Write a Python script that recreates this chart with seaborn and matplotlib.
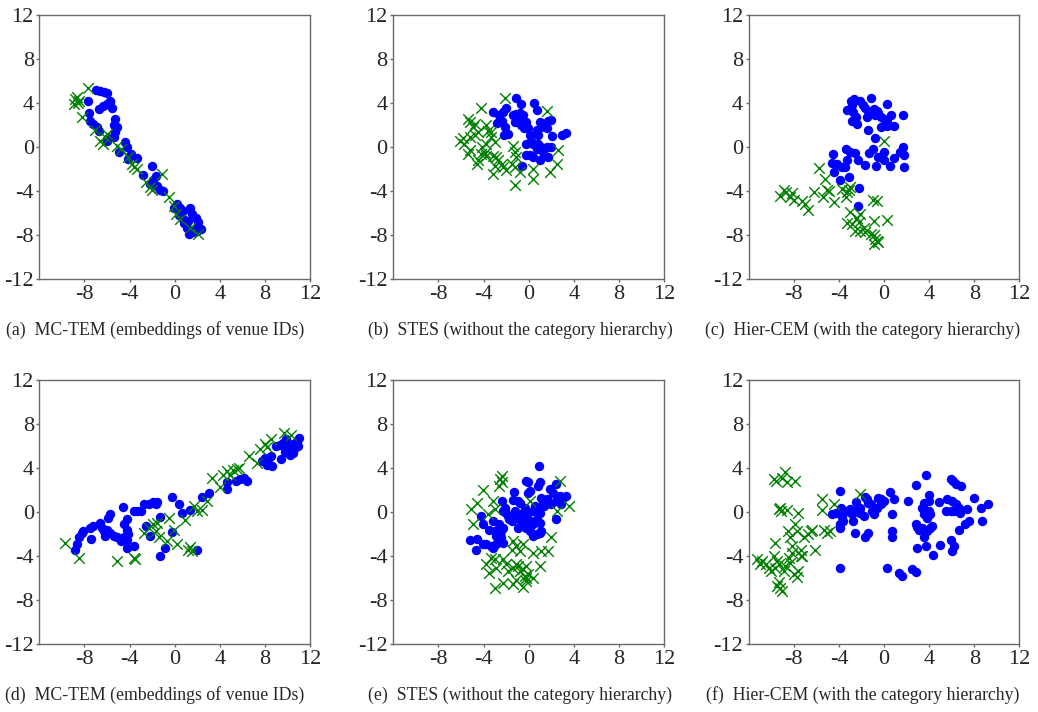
import matplotlib
matplotlib.use("Agg")
import matplotlib.pyplot as plt
import seaborn as sns
import pandas as pd

# ---- panel (a): MC-TEM, venue-ID embeddings ----
a_blue_x = [-7.0, -6.6, -6.3, -6.0, -7.7, -7.6, -6.7, -6.4, -6.0, -5.7, -5.6, -5.7,
            -7.5, -7.2, -6.9, -6.7, -5.3, -5.4, -5.1, -5.3, -5.4, -5.9, -6.0, -4.4,
            -4.2, -3.9, -4.1, -4.9, -3.3, -2.0, -2.8, -1.7, -1.9, -2.2, -1.6, -1.3,
            -1.0, -0.1, 0.2, 0.5, 0.7, 0.4, 0.7, 0.8, 1.1, 1.4, 1.3, 1.7, 2.0, 2.1,
            1.9, 1.4, 1.5, 2.0, 2.3, 0.9, 1.2]
a_blue_y = [5.2, 5.1, 5.0, 4.9, 4.2, 3.1, 3.5, 3.7, 3.9, 4.1, 3.6, 4.2,
            2.4, 2.1, 1.8, 1.5, 2.6, 2.0, 1.8, 1.4, 0.9, 0.8, 0.6, 0.5,
            0.0, -0.6, -1.1, -0.4, -1.0, -1.7, -2.5, -2.6, -3.0, -3.3, -3.5, -3.9,
            -4.0, -5.5, -5.2, -5.5, -5.8, -6.2, -6.5, -6.9, -7.3, -7.6, -7.9, -7.7, -7.3, -6.8,
            -6.4, -5.5, -6.1, -7.6, -7.4, -6.7, -6.7]
a_green_x = [-7.7, -8.8, -8.6, -8.9, -8.5, -8.7, -8.2, -7.1, -6.6, -6.4, -6.2, -6.0,
             -5.1, -4.8, -4.1, -3.8, -3.6, -3.3, -2.5, -2.0, -2.2, -1.1, -0.5, -0.1,
             0.1, 1.4, 2.1, 0.5]
a_green_y = [5.4, 4.4, 4.0, 3.9, 4.2, 4.6, 2.7, 1.6, 0.6, 0.3, 0.9, 1.2,
             0.15, -0.15, -0.9, -1.5, -1.8, -2.0, -3.2, -3.9, -3.6, -2.4, -4.5, -5.3,
             -6.1, -7.3, -7.9, -6.5]

# ---- panel (b): STES, no category hierarchy ----
b_blue_x = [-1.1, -0.7, -3.2, -2.0, -2.3, -2.6, -2.8, -2.4, -2.1, -2.2, -1.8,
            -1.4, -1.1, -0.8, -0.5, -0.9, -1.2, -0.5, -0.2, -0.7, -0.4, -0.1,
            0.5, 0.7, 1.0, 0.7, 0.8, 1.1, 1.7, 2.0, 1.6, 2.1,
            0.1, 0.25, -0.2, 0.4, 0.8, 0.7, 1.1, 1.3, 1.6, 2.0, 1.7, 1.0, 0.1, -0.2, 0.4,
            -0.6, 3.0, 3.3]
b_blue_y = [4.5, 3.9, 3.2, 3.6, 3.2, 2.9, 2.2, 2.4, 1.8, 1.06, 1.2,
            2.9, 3.0, 3.1, 2.9, 2.4, 2.3, 2.4, 2.3, 2.0, 1.7, 1.7,
            4.0, 3.4, 2.3, 1.6, 1.1, 1.8, 2.4, 2.5, 1.7, 1.0,
            1.06, 0.6, 0.3, 0.3, 0.3, -0.15, 0.0, -0.45, 0.0, 0.0, -0.9, -1.2, -0.75, -0.75, -0.9,
            -1.7, 1.1, 1.3]
b_green_x = [-2.1, -4.2, -5.4, -5.2, -4.8, -4.9, -3.8, -3.6, -4.5, -4.8, -5.2, -5.8,
             -6.1, -5.7, -5.2, -5.4, -4.1, -3.8, -3.9, -4.2, -3.8, -3.3, -3.0, -3.3,
             -4.6, -4.5, -3.2, -2.9, -2.7, -3.0, -3.2, -2.3, -2.0, -2.4, -1.4, -1.2,
             -1.1, -1.5, -1.2, -0.8, -1.2, 0.4, 0.4, 1.6, 1.9, 2.6, 2.5]
b_green_y = [4.5, 3.6, 2.6, 2.3, 2.1, 1.8, 2.0, 1.5, 1.4, 1.1, 0.9, 0.8,
             0.6, 0.3, -0.3, -0.6, 0.0, 0.3, -0.5, -0.6, -0.8, 0.9, 0.5, 1.4,
             -1.5, -1.2, -0.8, -0.9, -1.2, -1.7, -2.4, -1.8, -2.1, -1.5, 0.15, -0.45,
             -0.9, -1.5, -1.8, -2.3, -3.4, -2.0, -2.9, 3.3, -2.3, -0.3, -1.5]

# ---- panel (c): Hier-CEM, with category hierarchy ----
c_blue_x = [-2.7, -2.9, -2.8, -3.3, -2.75, -2.8, -2.5, -2.4, -2.1, -1.9, -1.7, -1.2,
            -1.45, -1.5, -0.9, -0.6, -0.8, -0.5, -0.3, 0.0, 0.3, 0.6, 0.3, -0.3, 0.3,
            0.9, 1.7, -1.4, -0.8,
            -3.4, -3.0, -2.6, -4.5, -4.6, -4.2, -3.7, -3.3, -4.4, -3.9, -3.1, -3.5,
            -2.3, -1.7, -1.3, -1.0, -0.7, -0.5, 0.0, 0.0, 0.5, 0.9, 1.45, 1.7, 1.75,
            1.8, -2.25, -2.3]
c_blue_y = [4.4, 4.2, 3.8, 3.4, 3.2, 2.4, 2.7, 2.1, 4.2, 3.8, 3.6, 4.5,
            2.9, 2.7, 3.5, 3.3, 2.9, 3.1, 2.7, 2.6, 3.9, 2.9, 2.4, 1.8, 1.9,
            1.9, 2.9, 1.6, 0.85,
            -0.15, -0.4, -0.5, -0.6, -1.4, -1.5, -1.8, -1.2, -2.3, -3.0, -2.7, -1.8,
            -1.2, -1.6, -0.55, -0.2, -1.7, -0.9, -1.2, -0.45, -1.7, -1.0, -0.45, 0.0, -0.7,
            -1.8, -3.7, -5.3]
c_green_x = [0.0, -5.8, -5.2, -9.2, -8.9, -8.7, -8.3, -8.2, -8.0, -7.3, -7.0, -6.7,
             -6.2, -5.4, -4.9, -5.1, -4.4, -3.7, -3.3, -3.4, -3.1, -3.0,
             -3.0, -3.3, -2.8, -2.4, -2.1, -2.25, -2.6, -2.1, -1.8, -1.7, -1.2, -0.9,
             -0.8, -0.6, -0.9, -0.5, -0.9, -1.0, -0.6, 0.3]
c_green_y = [0.6, -1.9, -2.9, -4.4, -3.9, -4.1, -4.5, -4.2, -4.8, -4.9, -5.2, -5.7,
             -4.1, -4.5, -4.0, -3.9, -5.0, -3.8, -4.1, -4.5, -3.9, -3.6,
             -5.9, -6.9, -7.0, -6.4, -6.1, -6.8, -7.6, -7.6, -7.3, -7.7, -7.9, -8.0,
             -8.3, -8.5, -8.8, -8.6, -6.7, -4.8, -4.9, -6.6]

# ---- panel (d): MC-TEM ----
d_blue_x = [-8.8, -8.7, -8.5, -8.2, -8.1, -7.5, -7.2, -7.4, -6.6, -6.45, -6.3, -6.15,
            -6.0, -5.7, -5.4, -5.1, -4.8, -4.5, -4.2, -4.1, -4.2, -4.5, -4.2,
            -5.9, -5.7, -4.6, -3.6, -3.3, -3.0, -2.75, -2.3, -1.9, -1.7, -1.6,
            -2.5, -2.2, -1.3, -3.6, -4.2, -0.25, 0.35, 0.65, 1.4, -0.25, -0.9, -1.3,
            2.0, 2.4, 3.0, 4.65, 4.65, 5.4, 5.8, 6.1, 6.4,
            7.7, 8.0, 8.3, 8.5, 8.2, 8.6, 9.0, 9.3, 9.6, 9.9, 10.0, 10.2, 10.5, 10.6,
            10.8, 10.9, 11.0, 10.5, 10.2, 9.4, 9.8]
d_blue_y = [-3.4, -2.9, -2.3, -1.9, -1.7, -1.4, -1.3, -2.4, -1.0, -1.4, -1.7, -2.2,
            -1.6, -1.9, -2.2, -2.3, -2.6, -2.3, -2.5, -2.0, -1.6, -1.1, -0.6,
            -0.5, -0.2, 0.45, 0.1, 0.1, 0.1, 0.75, 0.7, 0.9, 0.75, 0.9,
            -1.3, -2.2, -0.45, -3.1, -3.25, 1.35, 0.75, -0.06, 0.2, -1.8, -3.3, -4.0,
            -3.4, 1.35, 1.7, 2.7, 2.1, 2.8, 3.0, 3.1, 2.8,
            4.6, 4.9, 4.8, 5.1, 4.3, 4.2, 6.0, 6.1, 6.3, 6.6, 6.0, 5.8, 6.2, 5.7,
            6.5, 6.0, 6.7, 5.4, 5.2, 4.8, 5.5]
d_green_x = [-9.7, -8.5, -5.1, -3.6, -3.5, -2.75, -2.3, -1.9, -1.6, -1.7, -1.4,
             -0.7, -0.5, -0.1, 0.2, 0.95, 1.2, 1.5, 1.4, 1.7, 2.0, 2.4, 2.9,
             3.3, 4.05, 4.3, 4.6, 4.9, 5.2, 5.5, 5.7,
             6.6, 7.3, 7.6, 8.0, 8.2, 8.5, 9.7, 10.3]
d_green_y = [-2.8, -4.15, -4.4, -4.15, -4.3, -1.9, -1.4, -1.1, -0.97, -1.7, -2.3,
             -2.6, -0.5, -1.6, -2.9, -0.7, -3.4, -3.5, -3.2, 0.55, 0.1, 0.2, 1.0,
             3.1, 2.3, 3.4, 3.7, 3.4, 3.8, 3.9, 4.0,
             5.1, 4.5, 5.7, 6.2, 5.9, 6.6, 7.2, 7.0]

# ---- panel (e): STES ----
e_blue_x = [0.9, -0.2, -0.05, 1.0, 0.8, -0.05, 0.1, -1.3, -1.4, -0.95, -0.8,
            2.45, 1.9, 2.2, 2.75, 3.05, 3.35, 2.9, 2.45, 1.6, 1.3, 1.1, 1.4, 2.0, 2.45,
            -2.4, -2.1, -2.3, -2.0, -1.8, -1.7, -1.5,
            -4.2, -4.05, -3.2, -3.5, -3.0, -2.9, -2.6, -2.3, -2.6,
            -5.2, -4.6, -4.65, -4.05, -3.75, -3.3, -3.2, -2.9, -2.3, -2.45, -2.75, -2.45,
            -1.2, -1.1, -0.8, -0.65, -0.5, -0.95, -0.2, 0.1, 0.4, 0.7, 1.0, 1.1,
            -0.35, -0.05, 0.4, 0.55, 0.8, 1.0, 1.0, 0.7, 0.4, 0.1, -0.2]
e_blue_y = [4.2, 2.8, 2.7, 2.7, 2.4, 1.75, 1.9, 1.8, 1.1, 1.0, 0.85,
            2.6, 2.1, 1.7, 1.45, 1.3, 1.45, 0.75, 1.0, 1.15, 0.85, 1.3, 0.55, 0.7, -0.65,
            1.0, 0.4, 0.1, -0.05, -0.35, -0.6, -0.8,
            -0.35, -1.05, -0.8, -1.6, -1.7, -2.2, -2.3, -1.4, -1.1,
            -2.5, -2.4, -3.4, -2.9, -2.9, -3.1, -3.3, -2.9, -2.8, -2.3, -1.7, -1.7,
            0.1, -0.5, -0.2, -0.8, -1.1, -1.4, -1.4, -1.7, -2.2, -2.0, -1.9, -1.7,
            0.4, -0.05, 0.1, 0.55, 0.4, -0.05, -1.0, -0.65, -1.1, -0.8, -0.5]
e_green_x = [-2.4, -2.5, -2.6, -2.4, -4.05, -4.6, -5.1, -4.9, -3.2, -3.0, -3.6,
             2.75, 2.5, 3.6, 0.1, 2.0, -1.4, -1.1, -0.5, -1.5, -0.8, 0.4, 1.1, 1.7,
             -3.3, -3.8, -3.5, -2.9, -3.0,
             -2.0, -2.3, -1.85, -1.4, -1.1, -0.95, -0.8, -0.5, -0.25, -0.05, -0.2, 0.4,
             -3.0, -2.3, -1.4, -1.1, -0.5, -0.2, -0.35, 1.0]
e_green_y = [3.3, 3.0, 2.4, 2.7, 2.0, 0.85, 0.25, -1.1, 1.0, 0.25, -0.2,
             2.8, 0.1, 0.55, 1.0, -2.3, -2.6, -3.1, -2.9, -3.4, -3.5, -3.7, -3.5, -3.5,
             -4.15, -4.75, -5.5, -5.1, -4.3,
             -4.75, -4.3, -5.35, -5.05, -4.75, -4.9, -5.35, -5.2, -4.9, -5.65, -5.95, -5.95,
             -6.9, -6.4, -6.55, -6.2, -6.8, -6.25, -5.8, -4.9]

# ---- panel (f): Hier-CEM ----
f_blue_x = [-3.9, -4.6, -4.3, -4.0, -3.8, -3.7, -3.6, -3.9, -3.9, -3.3, -3.0, -2.85,
            -2.75, -2.5, -2.55, -2.15, -2.1, -1.8, -1.65, -1.5, -1.4, -1.2, -1.05, -0.9,
            -0.6, -0.5, -0.3, -0.25, -0.05, 0.55, 0.85, 0.7,
            -2.55, -1.7, -1.45, -3.9, 0.7, 0.7, 0.25, 1.3, 1.6, 2.5, 2.8, 2.1,
            2.85, 3.75, 3.95, 4.0, 3.5, 3.4, 3.65, 3.95, 4.1, 3.8, 3.5,
            2.8, 2.9, 3.1, 3.4, 3.65, 3.5, 3.8, 4.1, 4.25, 2.9, 3.75, 4.35, 4.95,
            4.85, 5.6, 5.45, 6.05, 6.35, 6.6, 6.7, 5.9, 6.2,
            5.9, 6.1, 6.35, 6.8, 7.35, 7.5, 7.15, 6.6, 5.9, 6.2, 6.05, 8.0, 8.6, 8.7, 9.2]
f_blue_y = [1.9, -0.15, -0.05, -0.05, 0.4, -0.45, -0.8, -1.1, -1.4, 0.1, 0.25, -0.2,
            -0.8, 0.9, 0.1, 0.4, -0.05, -0.35, 1.35, 1.15, 0.85, 0.7, 0.1, -0.2,
            0.4, 1.3, 1.15, 0.75, 1.0, 1.8, 1.15, -0.2,
            -1.9, -2.3, -1.9, -5.05, -1.7, -2.3, -5.1, -5.5, -5.8, -5.2, -5.4, 1.05,
            2.5, 3.4, 1.6, 1.0, 0.85, 0.4, 0.1, 0.1, -0.2, -0.5, -0.2,
            -1.05, -1.35, -1.6, -1.4, -1.7, -2.3, -1.7, -1.4, -1.3, -3.25, -3.1, -3.85, -2.95,
            0.9, 1.15, 0.1, 1.0, 0.7, 0.4, -0.05, 0.1, 0.1,
            3.05, 2.8, 2.6, 2.35, 0.3, -0.8, -1.1, -1.6, -2.5, -3.1, -3.55, 1.3, 0.35, -0.8, 0.75]
f_green_x = [-9.8, -9.6, -9.05, -8.75, -8.6, -7.9,
             -9.35, -9.2, -9.15, -8.6, -7.6,
             -7.9, -7.7, -8.5, -7.1, -6.7, -6.5, -6.4, -6.1,
             -5.5, -5.5, -5.35, -5.05, -4.75, -4.45, -2.1,
             -9.65, -8.3, -8.2, -7.4, -7.3,
             -11.3, -10.8, -11.0, -10.5, -10.2, -10.05, -9.8, -9.5, -9.65, -9.35, -9.35,
             -9.2, -9.5, -9.05, -8.9, -8.75, -8.45, -8.3, -8.2, -8.0, -7.7, -7.6, -7.4]
f_green_y = [3.0, 2.8, 3.1, 3.6, 2.7, 2.8,
             0.25, 0.4, 0.1, 0.15, -0.05,
             -1.1, -1.7, -1.7, -2.3, -2.0, -1.7, -1.6, -3.4,
             1.15, 0.15, -1.6, -1.9, -1.7, 0.75, 1.65,
             -2.8, -2.3, -3.1, -3.4, -4.0,
             -4.3, -4.45, -4.75, -4.75, -5.1, -5.35, -4.0, -4.45, -5.05, -4.75, -6.3,
             -6.9, -6.7, -7.2, -5.35, -4.9, -4.15, -4.6, -3.7, -5.6, -5.9, -5.35, -4.0]

captions = ["(a)  MC-TEM (embeddings of venue IDs)",
            "(b)  STES (without the category hierarchy)",
            "(c)  Hier-CEM (with the category hierarchy)",
            "(d)  MC-TEM (embeddings of venue IDs)",
            "(e)  STES (without the category hierarchy)",
            "(f)  Hier-CEM (with the category hierarchy)"]
x_ticks = [-8, -4, 0, 4, 8, 12]
y_ticks = [-12, -8, -4, 0, 4, 8, 12]

panels = [
    (a_blue_x, a_blue_y, a_green_x, a_green_y),
    (b_blue_x, b_blue_y, b_green_x, b_green_y),
    (c_blue_x, c_blue_y, c_green_x, c_green_y),
    (d_blue_x, d_blue_y, d_green_x, d_green_y),
    (e_blue_x, e_blue_y, e_green_x, e_green_y),
    (f_blue_x, f_blue_y, f_green_x, f_green_y),
]

sns.set_theme(style="white")
plt.rcParams["font.family"] = ["Liberation Serif", "DejaVu Serif"]
plt.rcParams["axes.unicode_minus"] = False

fig = plt.figure(figsize=(10.38, 7.12), dpi=100)

lefts = [0.0379, 0.3789, 0.7213]
bottoms = [0.6077, 0.0951]
w, h = 0.2608, 0.3712
caption_x = [0.149, 0.501, 0.831]
caption_y = [0.5365, 0.024]

for i, (bx, by, gx, gy) in enumerate(panels):
    r, c = divmod(i, 3)
    ax = fig.add_axes([lefts[c], bottoms[r], w, h])
    blue = pd.DataFrame({"x": bx, "y": by})
    green = pd.DataFrame({"x": gx, "y": gy})
    sns.scatterplot(data=blue, x="x", y="y", ax=ax, color="#0000ff", marker="o",
                    s=46, linewidth=0, zorder=2)
    sns.scatterplot(data=green, x="x", y="y", ax=ax, color="#008000", marker="x",
                    s=58, linewidth=1.0, zorder=3)
    ax.set_xlim(-12, 12)
    ax.set_ylim(-12, 12)
    ax.set_xticks(x_ticks)
    ax.set_yticks(y_ticks)
    ax.set_xlabel("")
    ax.set_ylabel("")
    for sp in ax.spines.values():
        sp.set_color("#6a6a6a")
        sp.set_linewidth(1.0)
    ax.tick_params(axis="both", direction="out", length=2.5, width=1.0,
                   color="#6a6a6a", labelsize=16, pad=1.5, bottom=True, left=True)
    fig.text(caption_x[c], caption_y[r], captions[i], ha="center", va="center",
             fontsize=12.8)

fig.savefig("out.png", dpi=100)
